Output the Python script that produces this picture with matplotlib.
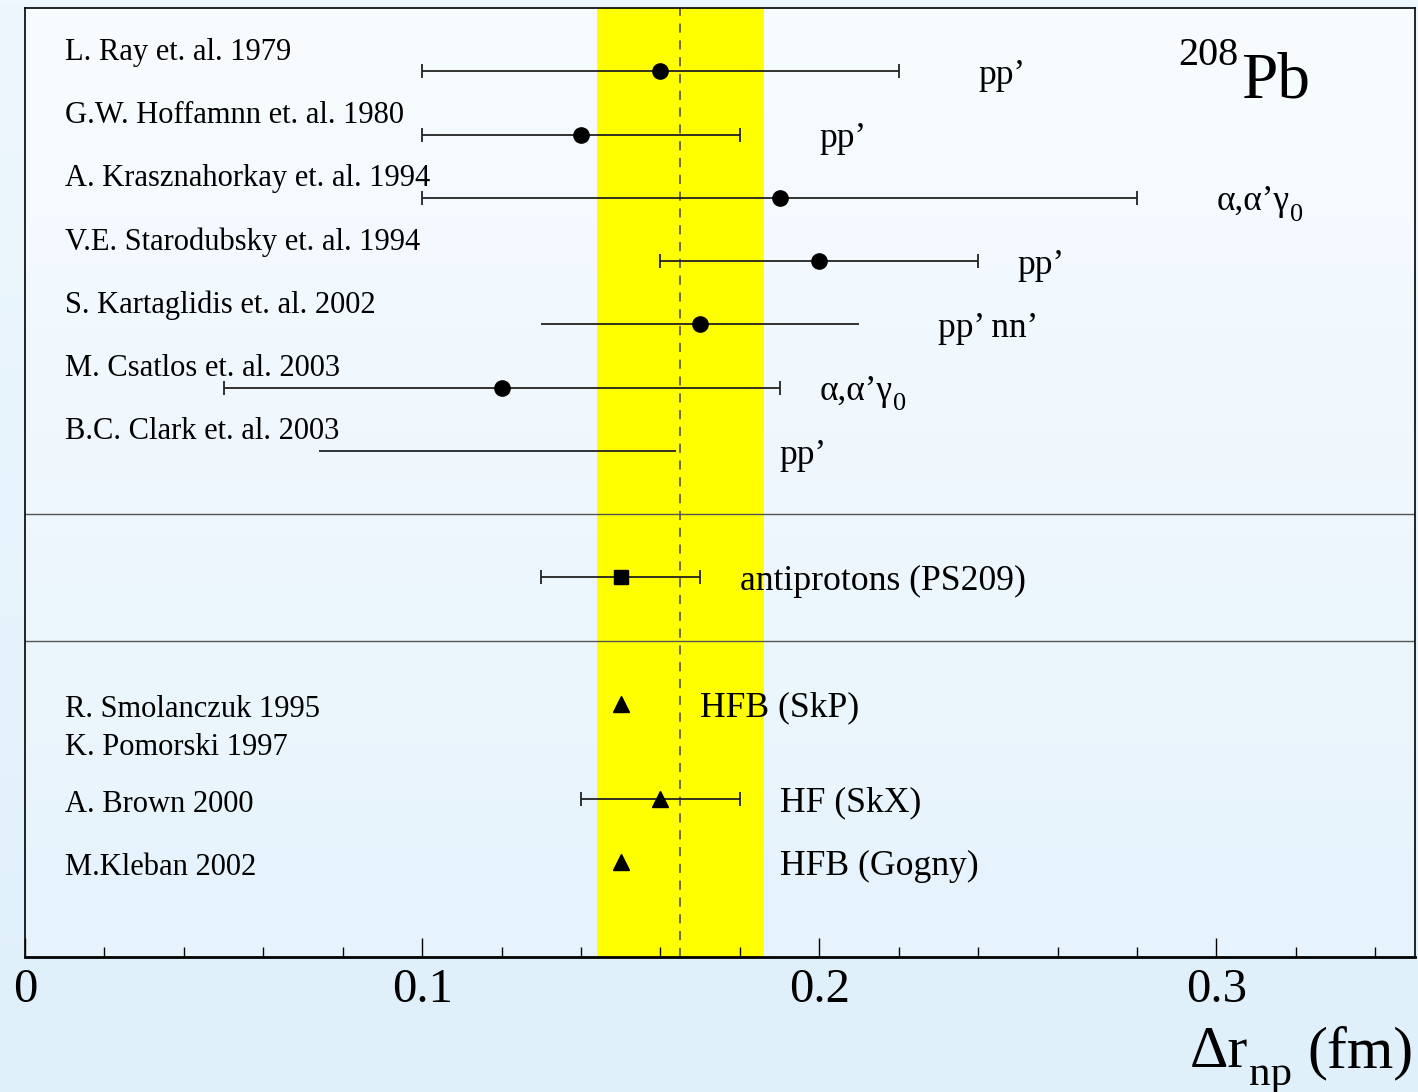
import numpy as np
import matplotlib
matplotlib.use('Agg')
import matplotlib.pyplot as plt
from matplotlib.colors import LinearSegmentedColormap
from matplotlib.ticker import MultipleLocator

plt.rcParams['font.family'] = 'Liberation Serif'

# experiments (top block)
exp_refs = ["L. Ray et. al. 1979", "G.W. Hoffamnn et. al. 1980",
            "A. Krasznahorkay et. al. 1994", "V.E. Starodubsky et. al. 1994",
            "S. Kartaglidis et. al. 2002", "M. Csatlos et. al. 2003",
            "B.C. Clark et. al. 2003"]
exp_probe = ["pp’", "pp’", "α,α’γ", "pp’", "pp’ nn’", "α,α’γ", "pp’"]
exp_probe_sub = ["", "", "0", "", "", "0", ""]
exp_val = [0.16, 0.14, 0.19, 0.20, 0.17, 0.12, None]
exp_lo = [0.10, 0.10, 0.10, 0.16, 0.13, 0.05, 0.074]
exp_hi = [0.22, 0.18, 0.28, 0.24, 0.21, 0.19, 0.164]
exp_caps = [True, True, True, True, False, True, False]
exp_rows = [14, 13, 12, 11, 10, 9, 8]
probe_x = [0.24, 0.20, 0.30, 0.25, 0.23, 0.20, 0.19]

# antiprotons
pbar_val = 0.15
pbar_lo, pbar_hi = 0.13, 0.17
pbar_row = 6

# theory (bottom block)
theo_refs = ["R. Smolanczuk 1995", "K. Pomorski 1997", "A. Brown 2000", "M.Kleban 2002"]
theo_ref_y = [3.8, 3.19, 2.3, 1.3]
theo_model = ["HFB (SkP)", "HF (SkX)", "HFB (Gogny)"]
theo_val = [0.15, 0.16, 0.15]
theo_lo = [None, 0.14, None]
theo_hi = [None, 0.18, None]
theo_rows = [4, 2.5, 1.5]
model_x = [0.17, 0.19, 0.19]

band_lo, band_hi = 0.144, 0.186
band_mid = 0.165


def add_sub(parent, sub, size, drop):
    # subscript right after the parent text, baseline lowered by `drop` points
    desc = 0.216 * parent.get_fontsize()
    return parent.axes.annotate(sub, xy=(1, 0), xycoords=parent, xytext=(0.5, desc - drop),
                                textcoords='offset points', fontsize=size,
                                ha='left', va='baseline')


fig = plt.figure(figsize=(14.18, 10.92), dpi=100)

# figure background gradient
bg = fig.add_axes([0, 0, 1, 1], zorder=-10)
bg.imshow(np.linspace(0, 1, 256).reshape(-1, 1), aspect='auto', origin='upper',
          cmap=LinearSegmentedColormap.from_list('fbg', ['#eef7fd', '#dff0fb']),
          extent=[0, 1, 0, 1])
bg.set_xlim(0, 1)
bg.set_ylim(0, 1)
bg.axis('off')

ax = fig.add_axes([0.0176, 0.1236, 0.9803, 0.8691])
ax.set_xlim(0, 0.35)
ax.set_ylim(0, 15)
ax.imshow(np.linspace(0, 1, 256).reshape(-1, 1), aspect='auto', origin='upper',
          cmap=LinearSegmentedColormap.from_list('abg', ['#f8fcff', '#e6f3fc']),
          extent=[0, 0.35, 0, 15], zorder=0)

ax.axvspan(band_lo, band_hi, color='#ffff00', zorder=1, lw=0)
ax.axvline(band_mid, color='#444444', ls=(0, (6, 5)), lw=1.1, zorder=2)
ax.axhline(7, color='#555555', lw=1, zorder=2)
ax.axhline(5, color='#555555', lw=1, zorder=2)

lc = '#222222'
lw = 1.3
for i in range(len(exp_rows)):
    y = exp_rows[i]
    cs = 5 if exp_caps[i] else 0
    if exp_val[i] is None:
        ax.hlines(y, exp_lo[i], exp_hi[i], color=lc, lw=lw, zorder=3)
    else:
        v = exp_val[i]
        ax.errorbar(v, y, xerr=[[v - exp_lo[i]], [exp_hi[i] - v]], fmt='o', color='black',
                    ecolor=lc, elinewidth=lw, capsize=cs, capthick=lw, ms=11, zorder=3)
    ax.text(0.01, y + 0.18, exp_refs[i], fontsize=22, ha='left', va='baseline')
    t = ax.text(probe_x[i], y - 0.2, exp_probe[i], fontsize=25.5, ha='left', va='baseline')
    if exp_probe_sub[i]:
        add_sub(t, exp_probe_sub[i], 19, 7)

ax.errorbar(pbar_val, pbar_row, xerr=[[pbar_val - pbar_lo], [pbar_hi - pbar_val]], fmt='s',
            color='black', ecolor=lc, elinewidth=lw, capsize=5, capthick=lw, ms=9.5, zorder=3)
ax.text(0.18, pbar_row - 0.2, "antiprotons (PS209)", fontsize=25.7, ha='left', va='baseline')

for i in range(len(theo_rows)):
    v = theo_val[i]
    y = theo_rows[i]
    if theo_lo[i] is None:
        ax.plot(v, y, '^', color='black', ms=12, zorder=3)
    else:
        ax.errorbar(v, y, xerr=[[v - theo_lo[i]], [theo_hi[i] - v]], fmt='^', color='black',
                    ecolor=lc, elinewidth=lw, capsize=5, capthick=lw, ms=12, zorder=3)
    ax.text(model_x[i], y - 0.2, theo_model[i], fontsize=25.7, ha='left', va='baseline', zorder=4)

for txt, y in zip(theo_refs, theo_ref_y):
    ax.text(0.01, y, txt, fontsize=22, ha='left', va='baseline')

# nucleus label
ax.text(0.3055, 14.1, "208", fontsize=29, ha='right', va='baseline')
ax.text(0.3063, 13.59, "Pb", fontsize=47, ha='left', va='baseline')

ax.set_yticks([])
ax.xaxis.set_minor_locator(MultipleLocator(0.02))
ax.set_xticks([0, 0.1, 0.2, 0.3])
ax.set_xticklabels(['0', '0.1', '0.2', '0.3'])
ax.tick_params(axis='x', which='major', direction='in', length=14, width=1, labelsize=35, pad=8)
ax.tick_params(axis='x', which='minor', direction='in', length=7, width=1)
for s in ax.spines.values():
    s.set_linewidth(1.2)
ax.spines['bottom'].set_linewidth(2)

# x-axis title in pieces so the subscript can be large
xl = bg.text(1190 / 1418, 0.0229, "Δr", fontsize=43, ha='left', va='baseline')
add_sub(xl, "np", 31, 13)
bg.text(0.997, 0.0229, "(fm)", fontsize=43, ha='right', va='baseline')

plt.savefig('out.png', dpi=100)
